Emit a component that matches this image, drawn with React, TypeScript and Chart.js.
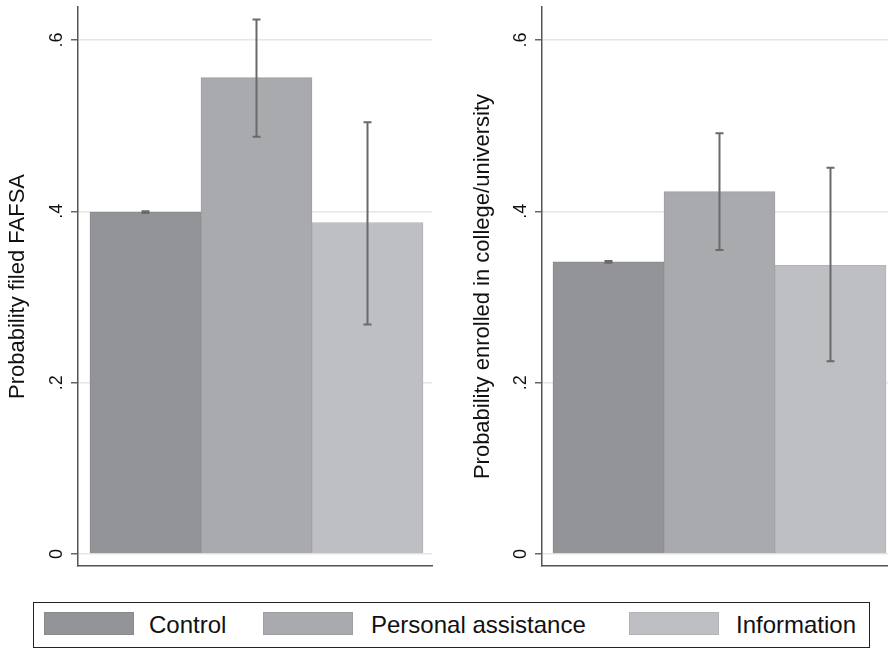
import React, { useEffect, useRef } from 'react';
import { Chart, registerables } from 'chart.js';

Chart.register(...registerables);

const FONT = '"Liberation Sans", Arial, Helvetica, sans-serif';

const categories = ['Control', 'Personal assistance', 'Information'];
const categoryPositions = [0, 1, 2];

const fafsaMeans = [0.399, 0.556, 0.387];
const fafsaLow = [0.398, 0.487, 0.268];
const fafsaHigh = [0.4, 0.624, 0.504];

const enrollMeans = [0.341, 0.423, 0.337];
const enrollLow = [0.34, 0.355, 0.225];
const enrollHigh = [0.342, 0.491, 0.451];

const yTickValues = [0, 0.2, 0.4, 0.6];
const yTickLabels = ['0', '.2', '.4', '.6'];

const barColors = ['#939498', '#a9aaad', '#bebfc2'];
const barBorders = ['#898a8e', '#9e9fa2', '#b3b4b7'];

const panelPlugin = {
  id: 'panelExtras',
  afterDatasetsDraw(chart: any, _args: any, opts: any) {
    const ctx = chart.ctx;
    const meta = chart.getDatasetMeta(0);
    const y = chart.scales.y;
    ctx.save();
    ctx.strokeStyle = '#6a6a6a';
    ctx.lineWidth = 2;
    (opts.low as number[]).forEach((lo, i) => {
      const x = meta.data[i].x;
      const yl = y.getPixelForValue(lo);
      const yh = y.getPixelForValue(opts.high[i]);
      ctx.beginPath();
      ctx.moveTo(x, yl);
      ctx.lineTo(x, yh);
      ctx.moveTo(x - 4, yl);
      ctx.lineTo(x + 4, yl);
      ctx.moveTo(x - 4, yh);
      ctx.lineTo(x + 4, yh);
      ctx.stroke();
    });
    ctx.fillStyle = '#111';
    ctx.font = `18px ${FONT}`;
    ctx.textAlign = 'center';
    ctx.textBaseline = 'middle';
    yTickValues.forEach((v, i) => {
      const py = y.getPixelForValue(v);
      ctx.save();
      ctx.translate(chart.chartArea.left - 21, py);
      ctx.rotate(-Math.PI / 2);
      ctx.fillText(yTickLabels[i], 0, 0);
      ctx.restore();
    });
    ctx.restore();
  },
};

type PanelProps = {
  title: string;
  means: number[];
  low: number[];
  high: number[];
  xMin: number;
  xMax: number;
  yWidth: number;
  titlePad: number;
  rightPad: number;
  left: number;
};

function Panel(props: PanelProps) {
  const ref = useRef<HTMLCanvasElement | null>(null);
  useEffect(() => {
    if (!ref.current) return;
    const chart = new Chart(ref.current, {
      type: 'bar',
      data: {
        datasets: [
          {
            label: props.title,
            data: props.means.map((m, i) => ({ x: categoryPositions[i], y: m })) as any,
            backgroundColor: barColors,
            borderColor: barBorders,
            borderWidth: 1,
            barPercentage: 1,
            categoryPercentage: 1,
          },
        ],
      },
      options: {
        responsive: false,
        animation: false,
        layout: { padding: { left: 0, right: props.rightPad, top: 7, bottom: 24 } },
        plugins: {
          legend: { display: false },
          tooltip: { enabled: false },
          panelExtras: { low: props.low, high: props.high },
        } as any,
        scales: {
          x: {
            type: 'linear',
            offset: false,
            min: props.xMin,
            max: props.xMax,
            afterBuildTicks: (s: any) => {
              s.ticks = categoryPositions.map((v) => ({ value: v }));
            },
            ticks: { display: false },
            grid: { display: false, drawTicks: false, offset: false },
            border: { display: true, color: '#555', width: 1.5 },
            afterFit: (s: any) => {
              s.height = 0;
            },
          },
          y: {
            type: 'linear',
            min: -0.014,
            max: 0.6385,
            afterBuildTicks: (s: any) => {
              s.ticks = yTickValues.map((v) => ({ value: v }));
            },
            afterFit: (s: any) => {
              s.width = props.yWidth;
            },
            ticks: { display: false },
            grid: {
              color: '#e6e6e6',
              lineWidth: 1.5,
              drawTicks: true,
              tickLength: 7,
              tickColor: '#666',
              tickWidth: 1.5,
            },
            border: { display: true, color: '#555', width: 1.5 },
            title: {
              display: true,
              text: props.title,
              color: '#111',
              font: { size: 22, family: FONT },
              padding: { top: props.titlePad, bottom: 0 },
            },
          },
        } as any,
      },
      plugins: [panelPlugin as any],
    });
    return () => chart.destroy();
  }, []);
  return (
    <canvas
      ref={ref}
      width={444}
      height={590}
      style={{ position: 'absolute', left: props.left, top: 0, width: 444, height: 590 }}
    />
  );
}

const legendLayout = [
  { swatch: 10, text: 115 },
  { swatch: 229, text: 337 },
  { swatch: 595, text: 702 },
];

export default function App() {
  return (
    <div
      style={{
        position: 'absolute',
        left: 0,
        top: 0,
        width: 888,
        height: 650,
        background: '#fff',
        overflow: 'hidden',
        fontFamily: FONT,
      }}
    >
      <Panel
        title="Probability filed FAFSA"
        means={fafsaMeans}
        low={fafsaLow}
        high={fafsaHigh}
        xMin={-0.608}
        xMax={2.581}
        yWidth={78}
        titlePad={5}
        rightPad={12}
        left={0}
      />
      <Panel
        title="Probability enrolled in college/university"
        means={enrollMeans}
        low={enrollLow}
        high={enrollHigh}
        xMin={-0.599}
        xMax={2.518}
        yWidth={98}
        titlePad={26}
        rightPad={0}
        left={444}
      />
      <div
        style={{
          position: 'absolute',
          left: 33,
          top: 602,
          width: 835,
          height: 44,
          border: '1px solid #222',
        }}
      >
        {categories.map((c, i) => (
          <React.Fragment key={c}>
            <div
              style={{
                position: 'absolute',
                left: legendLayout[i].swatch,
                top: 9,
                width: 90,
                height: 23,
                background: barColors[i],
                border: `1px solid ${barBorders[i]}`,
                boxSizing: 'border-box',
              }}
            />
            <div
              style={{
                position: 'absolute',
                left: legendLayout[i].text,
                top: 0,
                height: 44,
                lineHeight: '44px',
                fontSize: 24,
                color: '#111',
                whiteSpace: 'nowrap',
              }}
            >
              {c}
            </div>
          </React.Fragment>
        ))}
      </div>
    </div>
  );
}
